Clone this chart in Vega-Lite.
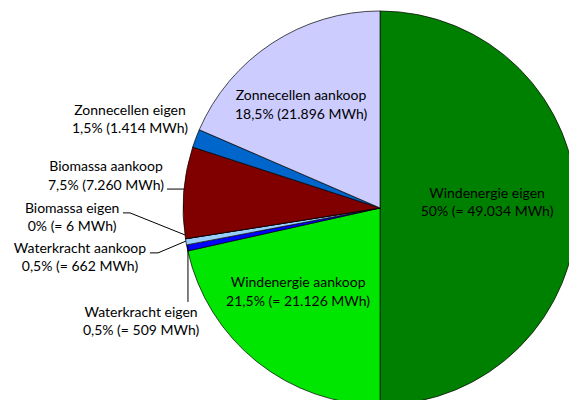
{
  "$schema": "https://vega.github.io/schema/vega-lite/v6.json",
  "width": 569,
  "height": 400,
  "padding": 0,
  "autosize": {"type": "none"},
  "background": "white",
  "config": {"view": {"stroke": null}, "font": "Lato"},
  "datasets": {
    "slices": [
      {"i": 1, "source": "Windenergie eigen", "pct": 50, "mwh": 49034},
      {"i": 2, "source": "Windenergie aankoop", "pct": 21.5, "mwh": 21126},
      {"i": 3, "source": "Waterkracht eigen", "pct": 0.5, "mwh": 509},
      {"i": 4, "source": "Waterkracht aankoop", "pct": 0.5, "mwh": 662},
      {"i": 5, "source": "Biomassa eigen", "pct": 0, "mwh": 6},
      {"i": 6, "source": "Biomassa aankoop", "pct": 7.5, "mwh": 7260},
      {"i": 7, "source": "Zonnecellen eigen", "pct": 1.5, "mwh": 1414},
      {"i": 8, "source": "Zonnecellen aankoop", "pct": 18.5, "mwh": 21896}
    ],
    "labels": [
      {"source": "Windenergie eigen", "text": "Windenergie eigen\n50% (= 49.034 MWh)", "x": 54.3, "y": 7.2},
      {"source": "Zonnecellen aankoop", "text": "Zonnecellen aankoop\n18,5% (21.896 MWh)", "x": -40.1, "y": 56.8},
      {"source": "Windenergie aankoop", "text": "Windenergie aankoop\n21,5% (= 21.126 MWh)", "x": -41.6, "y": -38.1},
      {"source": "Zonnecellen eigen", "text": "Zonnecellen eigen\n1,5% (1.414 MWh)", "x": -126.9, "y": 49.3},
      {"source": "Biomassa aankoop", "text": "Biomassa aankoop\n7,5% (7.260 MWh)", "x": -139.1, "y": 20.6},
      {"source": "Biomassa eigen", "text": "Biomassa eigen\n0% (= 6 MWh)", "x": -156.3, "y": -0.3},
      {"source": "Waterkracht aankoop", "text": "Waterkracht aankoop\n0,5% (= 662 MWh)", "x": -152.3, "y": -20.6},
      {"source": "Waterkracht eigen", "text": "Waterkracht eigen\n0,5% (= 509 MWh)", "x": -121.3, "y": -53.1}
    ],
    "leaders": [
      {"source": "Biomassa aankoop", "k": 1, "x": -108.1, "y": 9.6},
      {"source": "Biomassa aankoop", "k": 2, "x": -99.5, "y": 9.6},
      {"source": "Biomassa eigen", "k": 1, "x": -130.5, "y": -2.5},
      {"source": "Biomassa eigen", "k": 2, "x": -126.9, "y": -2.5},
      {"source": "Biomassa eigen", "k": 3, "x": -99.0, "y": -13.7},
      {"source": "Waterkracht aankoop", "k": 1, "x": -116.8, "y": -22.8},
      {"source": "Waterkracht aankoop", "k": 2, "x": -112.7, "y": -22.8},
      {"source": "Waterkracht aankoop", "k": 3, "x": -98.5, "y": -16.8},
      {"source": "Waterkracht eigen", "k": 1, "x": -97.5, "y": -47.7},
      {"source": "Waterkracht eigen", "k": 2, "x": -97.5, "y": -19.3}
    ]
  },
  "layer": [
    {
      "data": {"name": "slices"},
      "mark": {"type": "arc", "radius": 197, "stroke": "#000000", "strokeWidth": 0.7},
      "encoding": {
        "x": {"datum": 0, "type": "quantitative", "scale": {"domain": [-192.9, 95.9], "nice": false, "zero": false}, "axis": null},
        "y": {"datum": 0, "type": "quantitative", "scale": {"domain": [-97.5, 105.6], "nice": false, "zero": false}, "axis": null},
        "theta": {"field": "pct", "type": "quantitative", "stack": true},
        "order": {"field": "i", "type": "quantitative"},
        "color": {
          "field": "source",
          "type": "nominal",
          "legend": null,
          "scale": {
            "domain": ["Windenergie eigen", "Windenergie aankoop", "Waterkracht eigen", "Waterkracht aankoop", "Biomassa eigen", "Biomassa aankoop", "Zonnecellen eigen", "Zonnecellen aankoop"],
            "range": ["#008000", "#00e600", "#0000ff", "#99ccff", "#ff9900", "#800000", "#0066cc", "#ccccff"]
          }
        }
      }
    },
    {
      "data": {"name": "leaders"},
      "mark": {"type": "line", "color": "#000000", "strokeWidth": 1},
      "encoding": {
        "x": {"field": "x", "type": "quantitative", "scale": {"domain": [-192.9, 95.9], "nice": false, "zero": false}, "axis": null},
        "y": {"field": "y", "type": "quantitative", "scale": {"domain": [-97.5, 105.6], "nice": false, "zero": false}, "axis": null},
        "detail": {"field": "source"},
        "order": {"field": "k", "type": "quantitative"}
      }
    },
    {
      "data": {"name": "labels"},
      "mark": {"type": "text", "fontSize": 14, "lineBreak": "\n", "baseline": "middle", "align": "center", "lineHeight": 18.5, "color": "#000000"},
      "encoding": {
        "x": {"field": "x", "type": "quantitative", "scale": {"domain": [-192.9, 95.9], "nice": false, "zero": false}, "axis": null},
        "y": {"field": "y", "type": "quantitative", "scale": {"domain": [-97.5, 105.6], "nice": false, "zero": false}, "axis": null},
        "text": {"field": "text"}
      }
    }
  ]
}
